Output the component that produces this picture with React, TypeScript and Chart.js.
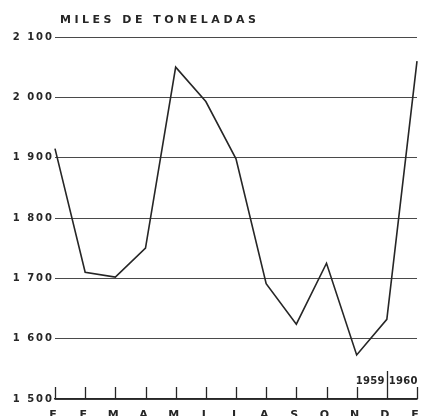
import React, { useEffect, useRef } from "react";
import { Chart, registerables } from "chart.js";

Chart.register(...registerables);

const months = ["F", "F", "M", "A", "M", "J", "J", "A", "S", "O", "N", "D", "E"];
const tonnes = [1915, 1710, 1702, 1750, 2050, 1993, 1898, 1691, 1624, 1725, 1573, 1632, 2060];
const yMin = 1500;
const yMax = 2100;
const yStep = 100;
const titleText = "MILES DE TONELADAS";
const yearLeft = "1959";
const yearRight = "1960";
const yearSplitIndex = 11;

const INK = "#262626";
const GRID = "#4a4a4a";
const FONT = "'DejaVu Sans', sans-serif";

function fmt(v: number): string {
  const th = Math.floor(v / 1000);
  const rest = String(v % 1000).padStart(3, "0");
  return `${th} ${rest}`;
}

const decor = {
  id: "decor",
  beforeDraw(chart: any) {
    (chart.ctx as any).letterSpacing = "2px";
  },
  afterDraw(chart: any) {
    const ctx = chart.ctx as CanvasRenderingContext2D & { letterSpacing?: string };
    const xs = chart.scales.x;
    const bottom = chart.chartArea.bottom;
    ctx.save();
    ctx.strokeStyle = INK;
    ctx.lineWidth = 1.3;
    for (let i = 0; i < months.length; i++) {
      const x = Math.round(xs.getPixelForValue(i)) + 0.5;
      const h = i === yearSplitIndex ? 28 : 12;
      ctx.beginPath();
      ctx.moveTo(x, bottom);
      ctx.lineTo(x, bottom - h);
      ctx.stroke();
    }
    ctx.fillStyle = INK;
    ctx.letterSpacing = "0px";
    ctx.font = `bold 11px ${FONT}`;
    ctx.textAlign = "center";
    ctx.textBaseline = "top";
    for (let i = 0; i < months.length; i++) {
      const x = xs.getPixelForValue(i);
      ctx.fillText(months[i], x - 2, bottom + 11);
    }
    ctx.letterSpacing = "0.3px";
    ctx.font = `bold 10px ${FONT}`;
    ctx.textBaseline = "alphabetic";
    const sx = xs.getPixelForValue(yearSplitIndex);
    ctx.textAlign = "right";
    ctx.fillText(yearLeft, sx - 2, 384);
    ctx.textAlign = "left";
    ctx.fillText(yearRight, sx + 2, 384);
    ctx.letterSpacing = "3.5px";
    ctx.font = `bold 11px ${FONT}`;
    ctx.textAlign = "left";
    ctx.fillText(titleText, 60, 23);
    ctx.restore();
    (ctx as any).letterSpacing = "0px";
  },
};

export default function App() {
  const ref = useRef<HTMLCanvasElement | null>(null);
  useEffect(() => {
    if (!ref.current) return;
    const chart = new Chart(ref.current, {
      type: "line",
      data: {
        labels: months,
        datasets: [
          {
            data: tonnes,
            borderColor: INK,
            borderWidth: 1.6,
            pointRadius: 0,
            tension: 0,
            fill: false,
            clip: false as any,
          },
        ],
      },
      options: {
        animation: false,
        responsive: false,
        devicePixelRatio: 1,
        layout: { padding: { top: 37, right: 4, left: 0, bottom: 0 } },
        plugins: { legend: { display: false }, tooltip: { enabled: false }, title: { display: false } },
        scales: {
          x: {
            type: "category",
            offset: false,
            grid: { display: false },
            border: { display: true, color: INK, width: 1.5 },
            ticks: { display: false },
            afterFit: (s: any) => {
              s.height = 17;
            },
          },
          y: {
            min: yMin,
            max: yMax,
            grid: { color: GRID, lineWidth: 1, drawTicks: false },
            border: { display: false },
            ticks: {
              stepSize: yStep,
              color: INK,
              padding: 1,
              font: { family: FONT, size: 10, weight: "bold" },
              callback: (v: any) => fmt(Number(v)),
            },
            afterFit: (s: any) => {
              s.width = 55;
            },
          },
        },
      },
      plugins: [decor],
    });
    return () => chart.destroy();
  }, []);
  return (
    <div style={{ position: "fixed", left: 0, top: 0, width: 421, height: 416, background: "#fff" }}>
      <canvas ref={ref} width={421} height={416} style={{ display: "block" }} />
    </div>
  );
}
